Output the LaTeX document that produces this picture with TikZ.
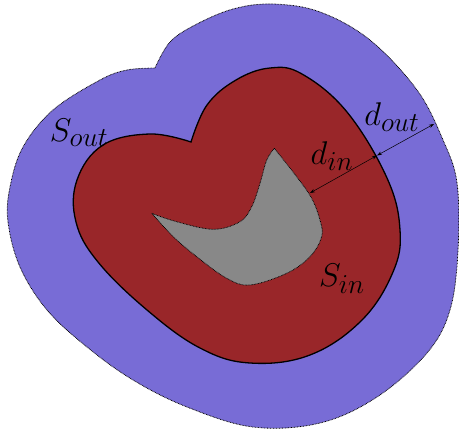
\documentclass[tikz,border=0pt]{standalone}
\usetikzlibrary{arrows.meta}
\definecolor{outblue}{RGB}{120,108,214}
\definecolor{inred}{RGB}{153,38,41}
\definecolor{holegray}{RGB}{136,136,136}
\tikzset{
  dotborder/.style={draw=black, line width=0.8pt, dash pattern=on 0.7pt off 0.8pt},
  solidborder/.style={draw=black, line width=1.3pt},
  dimarrow/.style={{Stealth[length=5pt,width=3.5pt]}-{Stealth[length=5pt,width=3.5pt]}, line width=0.5pt},
  lbl/.style={font=\fontsize{24.88}{30}\selectfont, inner sep=0pt, scale=1.32, transform shape}
}
\begin{document}
\begin{tikzpicture}[x=1pt,y=-1pt]
\useasboundingbox (0,0) rectangle (459,431);
% outer blue region
\path[fill=outblue, dotborder] plot[smooth, tension=0.6] coordinates {
 (155,68) (127,70) (100,80) (53,110) (23,147) (10,187) (8,222) (20,267) (47,310) (87,347)
 (133,380) (187,407) (253,427) (320,423) (377,397) (427,353) (450,310) (458,250)
 (457,183) (443,140) (417,90) (370,40) (320,12) (273,4) (233,9) (195,25) (170,42) (155,68)} -- cycle;
% inner red region
\path[fill=inred, solidborder] plot[smooth, tension=0.65] coordinates {
 (191,142) (150,134) (103,145) (77,180) (76,222) (98,262) (147,310) (200,348)
 (250,363) (310,355) (362,320) (393,272) (400,230) (387,178) (347,112) (302,74)
 (270,68) (236,80) (207,105) (191,142)} -- cycle;
% gray hole
\path[fill=holegray, dotborder] plot[smooth, tension=0.6] coordinates {
 (274.3,148.3) (296.7,176.7) (311.7,198.3) (320,220) (321.7,236.7) (310,256.7)
 (286.7,273.3) (250,285) (226.7,278.3) (196.7,256.7) (173.3,236.7) (151.7,213.3)}
 -- plot[smooth, tension=0.6] coordinates {
 (151.7,213.3) (176.7,221.7) (213.3,229.3) (240,221.7) (251.7,206.7) (260,183.3)
 (266.7,160) (274.3,148.3)} -- cycle;
% dimension arrows
\coordinate (holept) at (310,193);
\coordinate (redpt) at (377,155.5);
\coordinate (bluept) at (434,124);
\draw[dimarrow] (holept) -- (redpt);
\draw[dimarrow] (redpt) -- (bluept);
% labels
\node[lbl] (sout) at (79,133) {$S_{out}$};
\node[lbl] (dout) at (392,117) {$d_{out}$};
\node[lbl] (din) at (332,156) {$d_{in}$};
\node[lbl] (sin) at (342,279) {$S_{in}$};
\end{tikzpicture}
\end{document}
